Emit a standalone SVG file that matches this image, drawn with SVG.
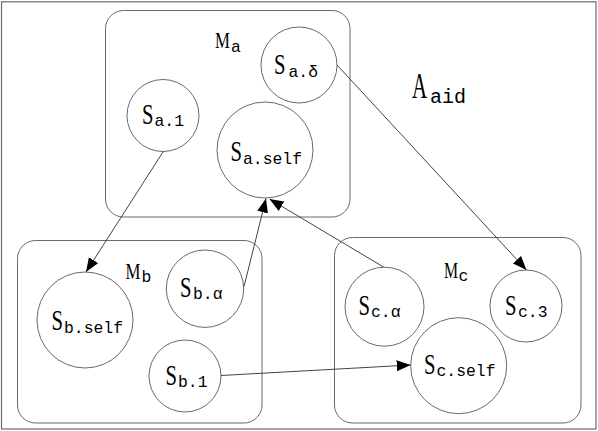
<svg xmlns="http://www.w3.org/2000/svg" width="598" height="431" viewBox="0 0 598 431">
<style>
.frame{fill:none;stroke:#6a6a6a;stroke-width:1.2}
.box{fill:none;stroke:#6a6a6a;stroke-width:1}
.node{fill:#fff;stroke:#6a6a6a;stroke-width:1}
.edge{fill:none;stroke:#444;stroke-width:1}
.big{font-family:"Liberation Serif","Noto Sans CJK SC",serif;font-size:30px;fill:#000}
.mbig{font-family:"Liberation Serif","Noto Sans CJK SC",serif;font-size:24px;fill:#000}
.sub{font-family:"Liberation Mono","Noto Sans CJK SC",monospace;font-size:16.4px;fill:#000}
</style>
<defs>
<marker id="arr" markerUnits="userSpaceOnUse" markerWidth="15" markerHeight="12" refX="14" refY="5.5" orient="auto">
<path d="M0,0 L14,5.5 L0,11 Z" fill="#000"/>
</marker>
</defs>
<rect class="frame" x="1.5" y="1.8" width="594.5" height="427.2"/>
<g id="Ma">
<rect class="box" x="105.5" y="10.5" width="244.5" height="206.5" rx="18"/>
<text class="mbig" transform="translate(215,47.5) scale(0.7,1)">M</text>
<text class="sub" x="231" y="52">a</text>
</g>
<g id="Mb">
<rect class="box" x="17.5" y="240.5" width="244.5" height="182.5" rx="18"/>
<text class="mbig" transform="translate(125.5,278.5) scale(0.7,1)">M</text>
<text class="sub" x="141.5" y="281.5">b</text>
</g>
<g id="Mc">
<rect class="box" x="334.5" y="237.5" width="246.5" height="185.5" rx="18"/>
<text class="mbig" transform="translate(444,278) scale(0.66,1)">M</text>
<text class="sub" x="458.5" y="281">c</text>
</g>
<g id="Aaid">
<text class="big" transform="translate(412,97.5) scale(0.58,1)" style="font-size:36px">A</text>
<text class="sub" x="430" y="102.5" style="font-size:20px">aid</text>
</g>
<g id="Sa_delta">
<circle class="node" cx="299" cy="65" r="38"/>
<text class="big" transform="translate(274,74) scale(0.69,1)">S</text>
<text class="sub" x="288.5" y="76.5">a.δ</text>
</g>
<g id="Sa_1">
<circle class="node" cx="163" cy="115.5" r="36"/>
<text class="big" transform="translate(142,123.5) scale(0.69,1)">S</text>
<text class="sub" x="154.5" y="126">a.1</text>
</g>
<g id="Sa_self">
<circle class="node" cx="265" cy="150" r="48"/>
<text class="big" transform="translate(230.5,161) scale(0.69,1)">S</text>
<text class="sub" x="243" y="163.5">a.self</text>
</g>
<g id="Sb_self">
<circle class="node" cx="85" cy="320" r="48"/>
<text class="big" transform="translate(51.5,330) scale(0.69,1)">S</text>
<text class="sub" x="64" y="332.5">b.self</text>
</g>
<g id="Sb_alpha">
<circle class="node" cx="205" cy="288.7" r="38.7"/>
<text class="big" transform="translate(180,296.7) scale(0.69,1)">S</text>
<text class="sub" x="193" y="298.5">b.α</text>
</g>
<g id="Sb_1">
<circle class="node" cx="185" cy="376" r="36"/>
<text class="big" transform="translate(165.5,385) scale(0.69,1)">S</text>
<text class="sub" x="178" y="387">b.1</text>
</g>
<g id="Sc_alpha">
<circle class="node" cx="384.5" cy="306.7" r="39.5"/>
<text class="big" transform="translate(358.5,315) scale(0.69,1)">S</text>
<text class="sub" x="371" y="317">c.α</text>
</g>
<g id="Sc_3">
<circle class="node" cx="526" cy="306" r="36"/>
<text class="big" transform="translate(505,315) scale(0.69,1)">S</text>
<text class="sub" x="518" y="317">c.3</text>
</g>
<g id="Sc_self">
<circle class="node" cx="458.7" cy="365.7" r="48"/>
<text class="big" transform="translate(424,374) scale(0.69,1)">S</text>
<text class="sub" x="436.5" y="376">c.self</text>
</g>
<g id="connectors">
<line class="edge" x1="163.3" y1="151.5" x2="86" y2="272" marker-end="url(#arr)"/>
<line class="edge" x1="244" y1="286.5" x2="266" y2="198.5" marker-end="url(#arr)"/>
<line class="edge" x1="383.5" y1="267" x2="269.5" y2="199" marker-end="url(#arr)"/>
<line class="edge" x1="337" y1="65" x2="526.5" y2="270" marker-end="url(#arr)"/>
<line class="edge" x1="221" y1="375.5" x2="410.7" y2="365" marker-end="url(#arr)"/>
</g>
</svg>
